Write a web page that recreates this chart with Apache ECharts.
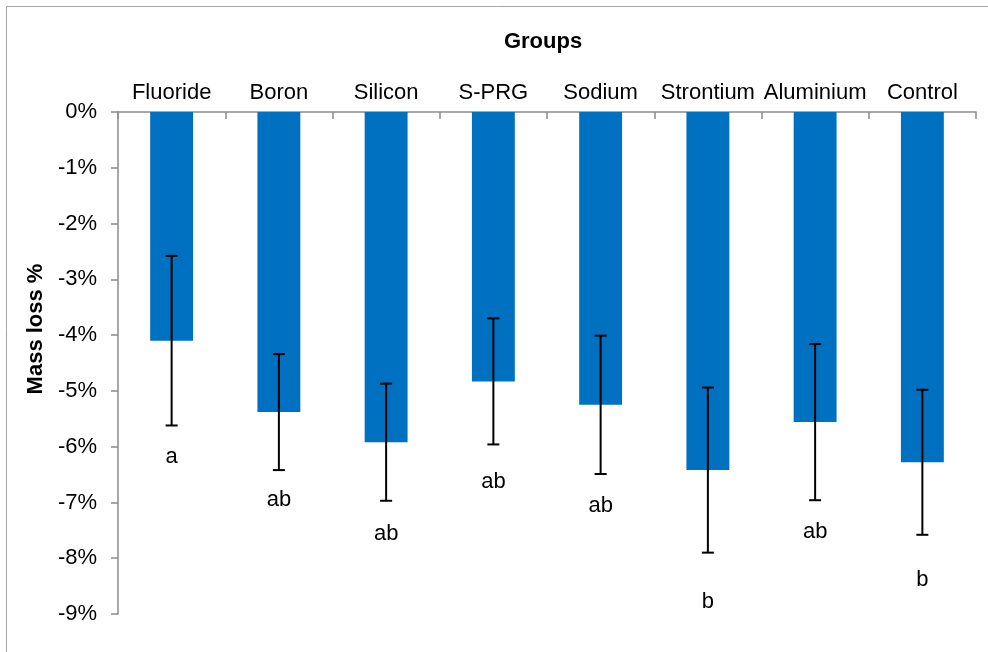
<!DOCTYPE html>
<html>
<head>
<meta charset="utf-8">
<script src="https://cdn.jsdelivr.net/npm/echarts@6/dist/echarts.min.js"></script>
<style>
  html, body { margin: 0; padding: 0; background: #fff; }
  #chart { width: 988px; height: 652px; }
</style>
</head>
<body>
<div id="chart"></div>
<script>
// Mass loss (%) per treatment group, mean with standard deviation
const groups = ['Fluoride', 'Boron', 'Silicon', 'S-PRG', 'Sodium', 'Strontium', 'Aluminium', 'Control'];
const massLoss = [-4.10, -5.38, -5.92, -4.83, -5.25, -6.42, -5.56, -6.28];
const sd = [1.52, 1.04, 1.05, 1.13, 1.24, 1.48, 1.40, 1.30];
// Significance letters and the value at which each one sits
const letters = ['a', 'ab', 'ab', 'ab', 'ab', 'b', 'ab', 'b'];
const letterAt = [-6.19, -6.95, -7.56, -6.63, -7.07, -8.78, -7.53, -8.39];
// Value axis range
const yMin = -9;
const yMax = 0;
const yStep = 1;

const FONT = '"Liberation Sans", Arial, sans-serif';
const chart = echarts.init(document.getElementById('chart'), null, { renderer: 'canvas' });

const errorData = groups.map((g, i) => [i, massLoss[i], sd[i]]);
const letterData = groups.map((g, i) => [i, letterAt[i], letters[i]]);

chart.setOption({
  animation: false,
  backgroundColor: '#ffffff',
  grid: { left: 118, right: 12, top: 112, bottom: 38, containLabel: false },
  graphic: [
    {
      type: 'rect', silent: true, z: -1,
      shape: { x: 6.5, y: 6.5, width: 1000, height: 700 },
      style: { fill: 'none', stroke: '#a6a6a6', lineWidth: 1 }
    },
    {
      type: 'text', silent: true,
      x: 543, y: 42,
      style: { text: 'Groups', font: 'bold 22px ' + FONT, fill: '#000', textAlign: 'center', textVerticalAlign: 'middle' }
    },
    {
      type: 'text', silent: true,
      x: 36, y: 329, rotation: Math.PI / 2,
      style: { text: 'Mass loss %', font: 'bold 22px ' + FONT, fill: '#000', textAlign: 'center', textVerticalAlign: 'middle' }
    }
  ],
  xAxis: {
    type: 'category',
    data: groups,
    position: 'top',
    boundaryGap: true,
    axisLine: { show: true, onZero: false, lineStyle: { color: '#8c8c8c', width: 1.5 } },
    axisTick: { show: true, inside: true, length: 7, alignWithLabel: false, lineStyle: { color: '#8c8c8c', width: 1.5 } },
    axisLabel: { margin: 8, color: '#000', fontFamily: FONT, fontSize: 22, interval: 0 },
    splitLine: { show: false }
  },
  yAxis: {
    type: 'value',
    min: yMin, max: yMax, interval: yStep,
    axisLine: { show: true, lineStyle: { color: '#8c8c8c', width: 1.5 } },
    axisTick: { show: true, length: 7, lineStyle: { color: '#8c8c8c', width: 1.5 } },
    axisLabel: { margin: 21, color: '#000', fontFamily: FONT, fontSize: 22,
      formatter: v => (v === 0 ? '0' : String(v)) + '%' },
    splitLine: { show: false }
  },
  series: [
    {
      type: 'bar',
      data: massLoss,
      barWidth: '40%',
      itemStyle: { color: '#0070C0' },
      z: 2
    },
    {
      type: 'custom',
      data: errorData,
      z: 3,
      renderItem: (params, api) => {
        const x = api.value(0);
        const m = api.value(1);
        const e = api.value(2);
        const hi = api.coord([x, m + e]);
        const lo = api.coord([x, m - e]);
        const cap = 6;
        const st = { stroke: '#000', lineWidth: 2 };
        return {
          type: 'group',
          children: [
            { type: 'line', shape: { x1: hi[0], y1: hi[1], x2: lo[0], y2: lo[1] }, style: st },
            { type: 'line', shape: { x1: hi[0] - cap, y1: hi[1], x2: hi[0] + cap, y2: hi[1] }, style: st },
            { type: 'line', shape: { x1: lo[0] - cap, y1: lo[1], x2: lo[0] + cap, y2: lo[1] }, style: st }
          ]
        };
      }
    },
    {
      type: 'custom',
      data: letterData,
      z: 4,
      renderItem: (params, api) => {
        const p = api.coord([api.value(0), api.value(1)]);
        return {
          type: 'text',
          x: p[0], y: p[1],
          style: { text: letters[params.dataIndex], font: '22px ' + FONT, fill: '#000',
            textAlign: 'center', textVerticalAlign: 'middle' }
        };
      }
    }
  ]
});
</script>
</body>
</html>
